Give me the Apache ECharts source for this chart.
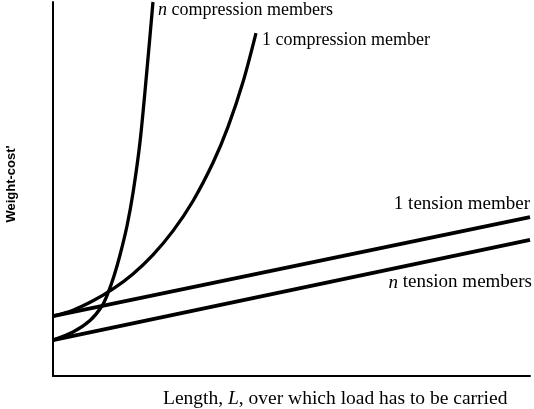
<!DOCTYPE html>
<html><head><meta charset="utf-8">
<script src="https://cdn.jsdelivr.net/npm/echarts@6/dist/echarts.min.js"></script>
<style>html,body{margin:0;padding:0;background:#fff}#c{width:534px;height:409px}</style>
</head><body><div id="c"></div>
<script>
// Length L (relative units, 0-100) and weight-cost (relative units, 0-100)
const tension1 = [[0, 16.0], [100, 42.5]];
const tensionN = [[0, 9.6], [100, 36.4]];
const compressionN = [[0, 9.6], [4.19, 11.76], [7.76, 14.84], [10.27, 18.72], [11.53, 22.19], [12.79, 26.74], [14.05, 32.35], [15.51, 40.11], [16.77, 48.93], [18.24, 62.57], [19.6, 80.48], [20.96, 100.0]];
const compression1 = [[0, 16.0], [4.19, 17.6], [8.39, 20.1], [12.58, 23.3], [16.77, 27.3], [20.96, 32.4], [25.16, 38.8], [29.35, 46.8], [33.54, 57.0], [36.69, 66.6], [39.83, 78.6], [42.56, 91.7]];
const xTitle = 'Length, {i|L}, over which load has to be carried';
const yTitle = "Weight-cost'";

const chart = echarts.init(document.getElementById('c'));
const serif = '"Liberation Serif", "DejaVu Serif", serif';
function mk(name, data, w) {
  return {name, type: 'line', data, symbol: 'none', smooth: 0.3, clip: false,
    lineStyle: {color: '#000', width: w}, silent: true};
}
function txt(size) {
  return {fill: '#000', font: size + 'px ' + serif,
    rich: {i: {fontStyle: 'italic', fontSize: size, fontFamily: serif, fill: '#000'}}};
}
chart.setOption({
  animation: false,
  backgroundColor: '#fff',
  grid: {left: 53, right: 4, top: 2, bottom: 33},
  xAxis: {type: 'value', min: 0, max: 100, axisLine: {show: true, lineStyle: {color: '#000', width: 2}},
    axisTick: {show: false}, axisLabel: {show: false}, splitLine: {show: false}},
  yAxis: {type: 'value', min: 0, max: 100, axisLine: {show: true, lineStyle: {color: '#000', width: 2}},
    axisTick: {show: false}, axisLabel: {show: false}, splitLine: {show: false}},
  series: [mk('1 tension member', tension1, 3.8), mk('n tension members', tensionN, 3.8),
           mk('n compression members', compressionN, 3.3), mk('1 compression member', compression1, 3.3)],
  graphic: [
    {type: 'text', left: 158, top: 1, style: Object.assign({text: '{i|n} compression members'}, txt(18))},
    {type: 'text', left: 262, top: 31, style: Object.assign({text: '1 compression member'}, txt(18))},
    {type: 'text', right: 4, top: 195, style: Object.assign({text: '1 tension member'}, txt(19))},
    {type: 'text', right: 2, top: 273, style: Object.assign({text: '{i|n} tension members'}, txt(19))},
    {type: 'text', left: 163, top: 389, style: Object.assign({text: xTitle}, txt(19.5))},
    {type: 'text', x: 11, y: 184, rotation: Math.PI / 2, style: {text: yTitle, fill: '#000',
      font: 'bold 13px "Liberation Sans", Arial, sans-serif', align: 'center', verticalAlign: 'middle'}}
  ]
});
</script></body></html>
